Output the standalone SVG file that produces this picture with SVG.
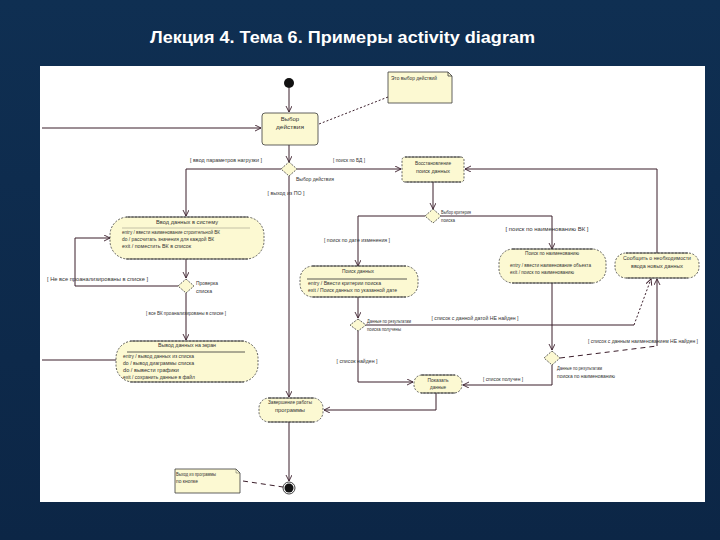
<svg xmlns="http://www.w3.org/2000/svg" width="720" height="540" viewBox="0 0 720 540">
<defs>
<linearGradient id="bg" x1="0" y1="0" x2="0" y2="1">
<stop offset="0" stop-color="#0f2f52"/>
<stop offset="1" stop-color="#0c2646"/>
</linearGradient>
<marker id="arr" markerWidth="7" markerHeight="7" refX="6" refY="3" orient="auto" markerUnits="userSpaceOnUse">
<path d="M0,0 L6,3 L0,6" fill="none" stroke="#3b1e2b" stroke-width="0.9"/>
</marker>
<style>
.t{font-family:"Liberation Sans",Arial,sans-serif;fill:#333;font-size:5.2px}
.tm{font-family:"Liberation Sans",Arial,sans-serif;fill:#333;font-size:6px}
.c{stroke:#3b1e2b;stroke-width:1;fill:none}
.d{stroke:#3b1e2b;stroke-width:1;fill:none;stroke-dasharray:2 2}
.dd{stroke:#3b1e2b;stroke-width:1;fill:none;stroke-dasharray:5 4}
.n{fill:#fcf9d2;stroke:#3a3a3a;stroke-width:0.8}
.a{fill:#fcf9d2;stroke:#3a3a3a;stroke-width:0.8;stroke-dasharray:2 1.5}
.e{stroke:#3a3a3a;stroke-width:0.9}
.dm{fill:#fcf9d2;stroke:#3a3a3a;stroke-width:0.8;stroke-dasharray:2 1.2}
.sep{stroke:#333;stroke-width:0.8}
</style>
</defs>
<rect width="720" height="540" fill="url(#bg)"/>
<text x="150" y="43" font-family="Liberation Sans,Arial,sans-serif" font-weight="bold" font-size="17" fill="#ffffff" textLength="385" lengthAdjust="spacingAndGlyphs">Лекция 4. Тема 6. Примеры activity diagram</text>
<rect x="40" y="66" width="665" height="436" fill="#ffffff"/>

<g id="connectors">
<line class="c" x1="289" y1="88" x2="289" y2="112" marker-end="url(#arr)"/>
<line class="c" x1="289" y1="145" x2="289" y2="162" marker-end="url(#arr)"/>
<polyline class="c" points="281,169 186,169 186,216" marker-end="url(#arr)"/>
<line class="c" x1="297" y1="169" x2="401" y2="169" marker-end="url(#arr)"/>
<line class="c" x1="289" y1="176" x2="289" y2="397" marker-end="url(#arr)"/>
<line class="d" x1="388" y1="97" x2="319" y2="124"/>
<line class="c" x1="433" y1="182" x2="433" y2="209" marker-end="url(#arr)"/>
<polyline class="c" points="425,216 358,216 358,266" marker-end="url(#arr)"/>
<polyline class="c" points="441,216 552,216 552,249" marker-end="url(#arr)"/>
<line class="c" x1="186" y1="259" x2="186" y2="278" marker-end="url(#arr)"/>
<polyline class="c" points="178,286 75,286 75,238 110,238" marker-end="url(#arr)"/>
<line class="c" x1="186" y1="293" x2="186" y2="340" marker-end="url(#arr)"/>
<line class="c" x1="116" y1="360" x2="42" y2="360"/>
<line class="c" x1="42" y1="128" x2="261" y2="128" marker-end="url(#arr)"/>
<line class="c" x1="358" y1="297" x2="358" y2="318" marker-end="url(#arr)"/>
<polyline class="c" points="366,325 634,325"/>
<line class="d" x1="634" y1="325" x2="651" y2="279" marker-end="url(#arr)"/>
<polyline class="c" points="358,331 358,382 413,382" marker-end="url(#arr)"/>
<line class="c" x1="552" y1="283" x2="552" y2="350" marker-end="url(#arr)"/>
<polyline class="dd" points="560,358 657,346"/>
<line class="c" x1="657" y1="346" x2="657" y2="279" marker-end="url(#arr)"/>
<polyline class="c" points="552,365 552,385 463,385" marker-end="url(#arr)"/>
<polyline class="c" points="657,253 657,169 465,169" marker-end="url(#arr)"/>
<polyline class="c" points="436,393 436,410 324,410" marker-end="url(#arr)"/>
<line class="c" x1="289" y1="422" x2="289" y2="481" marker-end="url(#arr)"/>
<line class="dd" x1="243" y1="481" x2="283" y2="487"/>
</g>

<g id="labels">
<text class="t" x="226" y="162" text-anchor="middle" textLength="72" lengthAdjust="spacingAndGlyphs">[ ввод параметров нагрузки ]</text>
<text class="t" x="349" y="162" text-anchor="middle" textLength="32" lengthAdjust="spacingAndGlyphs">[ поиск по БД ]</text>
<text class="t" x="296" y="181" textLength="38" lengthAdjust="spacingAndGlyphs">Выбор действия</text>
<text class="t" x="286" y="195" text-anchor="middle" textLength="37" lengthAdjust="spacingAndGlyphs">[ выход из ПО ]</text>
<text class="t" x="441" y="214" textLength="30" lengthAdjust="spacingAndGlyphs">Выбор критерия</text>
<text class="t" x="441" y="222" textLength="14" lengthAdjust="spacingAndGlyphs">поиска</text>
<text class="t" x="357" y="242" text-anchor="middle" textLength="66" lengthAdjust="spacingAndGlyphs">[ поиск по дате изменения ]</text>
<text class="t" x="547" y="231" text-anchor="middle" textLength="83" lengthAdjust="spacingAndGlyphs">[ поиск по наименованию ВК ]</text>
<text class="t" x="47" y="281" textLength="101" lengthAdjust="spacingAndGlyphs">[ Не все проанализированы в списке ]</text>
<text class="t" x="196" y="285" textLength="22" lengthAdjust="spacingAndGlyphs">Проверка</text>
<text class="t" x="196" y="293" textLength="16" lengthAdjust="spacingAndGlyphs">списка</text>
<text class="t" x="186" y="315" text-anchor="middle" textLength="80" lengthAdjust="spacingAndGlyphs">[ все ВК проанализированы в списке ]</text>
<text class="t" x="475" y="320" text-anchor="middle" textLength="87" lengthAdjust="spacingAndGlyphs">[ список с данной датой НЕ найден ]</text>
<text class="t" x="367" y="323" textLength="44" lengthAdjust="spacingAndGlyphs">Данные по результатам</text>
<text class="t" x="367" y="331" textLength="34" lengthAdjust="spacingAndGlyphs">поиска получены</text>
<text class="t" x="643" y="343" text-anchor="middle" textLength="110" lengthAdjust="spacingAndGlyphs">[ список с данным наименованием НЕ найден ]</text>
<text class="t" x="357" y="363" text-anchor="middle" textLength="41" lengthAdjust="spacingAndGlyphs">[ список найден ]</text>
<text class="t" x="503" y="381" text-anchor="middle" textLength="40" lengthAdjust="spacingAndGlyphs">[ список получен ]</text>
<text class="t" x="557" y="370" textLength="45" lengthAdjust="spacingAndGlyphs">Данные по результатам</text>
<text class="t" x="557" y="378" textLength="58" lengthAdjust="spacingAndGlyphs">поиска по наименованию</text>
</g>

<g id="start"><circle cx="289" cy="83" r="5" fill="#111"/></g>

<g id="note-top">
<path class="n" d="M388,72 H448 L452,76 V103 H388 Z"/>
<path d="M448,72 V76 H452" fill="none" stroke="#3a3a3a" stroke-width="0.8"/>
<text class="t" x="391" y="80" textLength="46" lengthAdjust="spacingAndGlyphs">Это выбор действий</text>
</g>

<g id="choose-action">
<rect class="n" x="262" y="113" width="56" height="32" rx="3"/>
<text class="tm" x="290" y="121" text-anchor="middle">Выбор</text>
<text class="t" x="290" y="129" text-anchor="middle" textLength="28" lengthAdjust="spacingAndGlyphs">действия</text>
</g>

<g id="decision-action"><polygon class="dm" points="289,162 297,169 289,176 281,169"/></g>

<g id="restore">
<rect class="a" x="402" y="157" width="62" height="25" rx="3"/>
<line class="e" x1="405" y1="157" x2="461" y2="157"/>
<line class="e" x1="405" y1="182" x2="461" y2="182"/>
<text class="t" x="433" y="165" text-anchor="middle" textLength="36" lengthAdjust="spacingAndGlyphs">Восстановление</text>
<text class="t" x="433" y="173" text-anchor="middle" textLength="34" lengthAdjust="spacingAndGlyphs">поиск данных</text>
</g>

<g id="decision-criteria"><polygon class="dm" points="433,209 441,216 433,223 425,216"/></g>

<g id="input-data">
<rect class="a" x="110" y="217" width="154" height="42" rx="18"/>
<line class="e" x1="126" y1="217" x2="248" y2="217"/>
<line class="e" x1="126" y1="259" x2="248" y2="259"/>
<text class="t" x="187" y="224" text-anchor="middle" textLength="62" lengthAdjust="spacingAndGlyphs">Ввод данных в систему</text>
<line class="sep" x1="122" y1="228" x2="250" y2="228" stroke-opacity="0.35"/>
<text class="t" x="122" y="234" textLength="98" lengthAdjust="spacingAndGlyphs">entry / ввести наименование строительной ВК</text>
<text class="t" x="122" y="241" textLength="92" lengthAdjust="spacingAndGlyphs">do / рассчитать значения для каждой ВК</text>
<text class="t" x="122" y="248" textLength="69" lengthAdjust="spacingAndGlyphs">exit / поместить ВК в список</text>
</g>

<g id="decision-check"><polygon class="dm" points="186,279 194,286 186,293 178,286"/></g>

<g id="output-data">
<rect class="a" x="116" y="341" width="142" height="41" rx="17"/>
<line class="e" x1="130" y1="341" x2="244" y2="341"/>
<line class="e" x1="130" y1="382" x2="244" y2="382"/>
<text class="t" x="187" y="347" text-anchor="middle" textLength="58" lengthAdjust="spacingAndGlyphs">Вывод данных на экран</text>
<line class="sep" x1="127" y1="352" x2="245" y2="352"/>
<text class="t" x="123" y="358" textLength="71" lengthAdjust="spacingAndGlyphs">entry / вывод данных из списка</text>
<text class="t" x="123" y="365" textLength="71" lengthAdjust="spacingAndGlyphs">do / вывод диаграммы списка</text>
<text class="t" x="123" y="372" textLength="56" lengthAdjust="spacingAndGlyphs">do / вывести графики</text>
<text class="t" x="123" y="379" textLength="72" lengthAdjust="spacingAndGlyphs">exit / сохранить данные в файл</text>
</g>

<g id="search-data">
<rect class="a" x="300" y="266" width="118" height="31" rx="13"/>
<line class="e" x1="312" y1="266" x2="406" y2="266"/>
<line class="e" x1="312" y1="297" x2="406" y2="297"/>
<text class="t" x="358" y="273" text-anchor="middle" textLength="32" lengthAdjust="spacingAndGlyphs">Поиск данных</text>
<line class="sep" x1="307" y1="279" x2="407" y2="279"/>
<text class="t" x="308" y="285" textLength="73" lengthAdjust="spacingAndGlyphs">entry / Ввести критерии поиска</text>
<text class="t" x="308" y="292" textLength="89" lengthAdjust="spacingAndGlyphs">exit / Поиск данных по указанной дате</text>
</g>

<g id="search-name">
<rect class="a" x="499" y="249" width="107" height="34" rx="14"/>
<line class="e" x1="512" y1="249" x2="593" y2="249"/>
<line class="e" x1="512" y1="283" x2="593" y2="283"/>
<text class="t" x="552" y="255" text-anchor="middle" textLength="54" lengthAdjust="spacingAndGlyphs">Поиск по наименованию</text>
<text class="t" x="510" y="267" textLength="81" lengthAdjust="spacingAndGlyphs">entry / ввести наименование объекта</text>
<text class="t" x="510" y="274" textLength="64" lengthAdjust="spacingAndGlyphs">exit / поиск по наименованию</text>
</g>

<g id="notify">
<rect class="a" x="615" y="253" width="84" height="25" rx="11"/>
<line class="e" x1="626" y1="253" x2="688" y2="253"/>
<line class="e" x1="626" y1="278" x2="688" y2="278"/>
<text class="tm" x="657" y="260" text-anchor="middle" textLength="68" lengthAdjust="spacingAndGlyphs">Сообщить о необходимости</text>
<text class="tm" x="657" y="268" text-anchor="middle" textLength="52" lengthAdjust="spacingAndGlyphs">ввода новых данных</text>
</g>

<g id="decision-found-date"><polygon class="dm" points="358,319 366,325 358,331 350,325"/></g>

<g id="decision-found-name"><polygon class="dm" points="552,351 560,358 552,365 544,358"/></g>

<g id="show-data">
<rect class="a" x="414" y="375" width="48" height="18" rx="8"/>
<line class="e" x1="421" y1="375" x2="455" y2="375"/>
<line class="e" x1="421" y1="393" x2="455" y2="393"/>
<text class="t" x="438" y="382" text-anchor="middle" textLength="21" lengthAdjust="spacingAndGlyphs">Показать</text>
<text class="t" x="438" y="389" text-anchor="middle" textLength="16" lengthAdjust="spacingAndGlyphs">данные</text>
</g>

<g id="finish-work">
<rect class="a" x="259" y="398" width="64" height="24" rx="10"/>
<line class="e" x1="268" y1="398" x2="314" y2="398"/>
<line class="e" x1="268" y1="422" x2="314" y2="422"/>
<text class="t" x="290" y="404" text-anchor="middle" textLength="44" lengthAdjust="spacingAndGlyphs">Завершение работы</text>
<text class="tm" x="290" y="412" text-anchor="middle" textLength="30" lengthAdjust="spacingAndGlyphs">программы</text>
</g>

<g id="note-bottom">
<path class="n" d="M175,469 H236 L240,473 V493 H175 Z"/>
<path d="M236,469 V473 H240" fill="none" stroke="#3a3a3a" stroke-width="0.8" stroke-opacity="0.5"/>
<text class="t" x="176" y="476" textLength="40" lengthAdjust="spacingAndGlyphs">Выход из программы</text>
<text class="t" x="176" y="483" textLength="22" lengthAdjust="spacingAndGlyphs">по кнопке</text>
</g>

<g id="end">
<circle cx="289" cy="488" r="6" fill="#fff" stroke="#111" stroke-width="0.8"/>
<circle cx="289" cy="488" r="4.5" fill="#111"/>
</g>
</svg>
